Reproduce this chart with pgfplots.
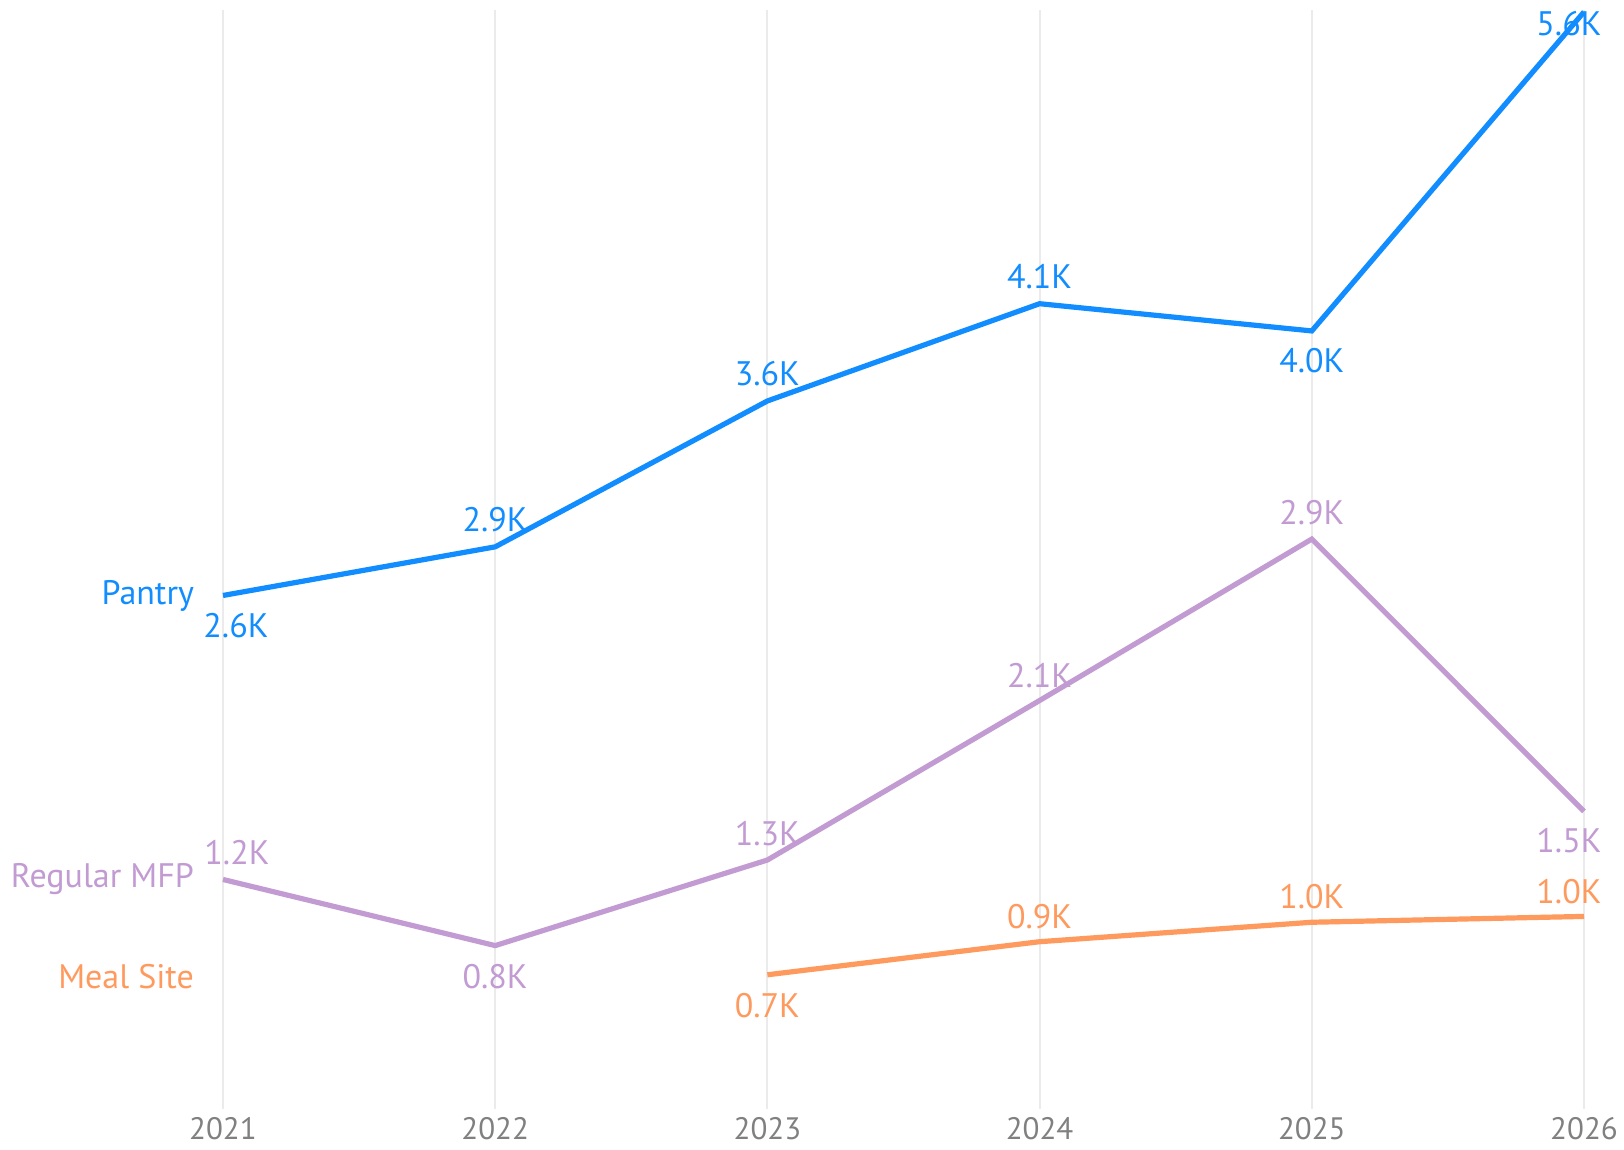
\documentclass[border=0pt]{standalone}
\usepackage{pgfplots}
\pgfplotsset{compat=1.18}
\usepackage{pgfplotstable}
\usepackage{fontspec}
\setmainfont{PT Sans}
\definecolor{pantry}{HTML}{118DFF}
\definecolor{mfp}{HTML}{C39BD3}
\definecolor{meal}{HTML}{FF9A5E}
\definecolor{gridc}{HTML}{EBEBEB}
\definecolor{tickc}{HTML}{808080}

\pgfplotstableread{
x y lab dx dy
2021 2.60 2.6K 6.5 -15
2022 2.85 2.9K 0 13.5
2023 3.60 3.6K 0 13.5
2024 4.10 4.1K 0 13.5
2025 3.96 4.0K 0 -15
2026 5.60 5.6K -7.5 -6
}\pantry
\pgfplotstableread{
x y lab dx dy
2021 1.14 1.2K 7 13.5
2022 0.80 0.8K 0 -15.5
2023 1.24 1.3K 0 13
2024 2.06 2.1K 0 12.5
2025 2.89 2.9K 0 13
2026 1.49 1.5K -7.5 -14.5
}\mfp
\pgfplotstableread{
x y lab dx dy
2023 0.65 0.7K 0 -15.5
2024 0.82 0.9K 0 12.5
2025 0.92 1.0K 0 13
2026 0.95 1.0K -7.5 12.5
}\meal

\begin{document}
\begin{tikzpicture}
\begin{axis}[
  at={(0,0)}, anchor=south west,
  scale only axis,
  width=680.5pt, height=549.5pt,
  xmin=2021, xmax=2026, ymin=-0.04, ymax=5.61,
  clip=false,
  axis line style={draw=none},
  xtick={2021,2022,2023,2024,2025,2026},
  xticklabel style={font=\fontsize{15.5}{17}\selectfont, text=tickc, inner sep=0.5pt, yshift=-3.5pt},
  /pgf/number format/assume math mode=true,
  xticklabel={\pgfmathprintnumber[1000 sep={}]{\tick}},
  ytick=\empty,
  major tick style={draw=none},
  xmajorgrids, grid style={gridc, line width=1pt},
  nodes near coords style={anchor=center, font=\fontsize{17}{19}\selectfont},
]
\addplot[pantry, line width=2.6pt, mark=none] table[x=x,y=y] {\pantry};
\addplot[mfp, line width=2.6pt, mark=none] table[x=x,y=y] {\mfp};
\addplot[meal, line width=2.6pt, mark=none] table[x=x,y=y] {\meal};

\addplot[draw=none, mark=none, nodes near coords, point meta=explicit symbolic,
  visualization depends on={\thisrow{dx} \as \dx},
  visualization depends on={\thisrow{dy} \as \dy},
  every node near coord/.append style={text=pantry, xshift=\dx pt, yshift=\dy pt}]
  table[x=x,y=y,meta=lab] {\pantry};
\addplot[draw=none, mark=none, nodes near coords, point meta=explicit symbolic,
  visualization depends on={\thisrow{dx} \as \dx},
  visualization depends on={\thisrow{dy} \as \dy},
  every node near coord/.append style={text=mfp, xshift=\dx pt, yshift=\dy pt}]
  table[x=x,y=y,meta=lab] {\mfp};
\addplot[draw=none, mark=none, nodes near coords, point meta=explicit symbolic,
  visualization depends on={\thisrow{dx} \as \dx},
  visualization depends on={\thisrow{dy} \as \dy},
  every node near coord/.append style={text=meal, xshift=\dx pt, yshift=\dy pt}]
  table[x=x,y=y,meta=lab] {\meal};

\node[anchor=east, text=pantry, font=\fontsize{17}{19}\selectfont, xshift=-11pt] at (axis cs:2021,2.60) {Pantry};
\node[anchor=east, text=mfp, font=\fontsize{17}{19}\selectfont, xshift=-11pt] at (axis cs:2021,1.14) {Regular MFP};
\node[anchor=east, text=meal, font=\fontsize{17}{19}\selectfont, xshift=-11pt] at (axis cs:2021,0.64) {Meal Site};
\end{axis}
\pgfresetboundingbox
\path (-111.5pt,-20.5pt) rectangle (700.5pt,554.5pt);
\end{tikzpicture}
\end{document}
